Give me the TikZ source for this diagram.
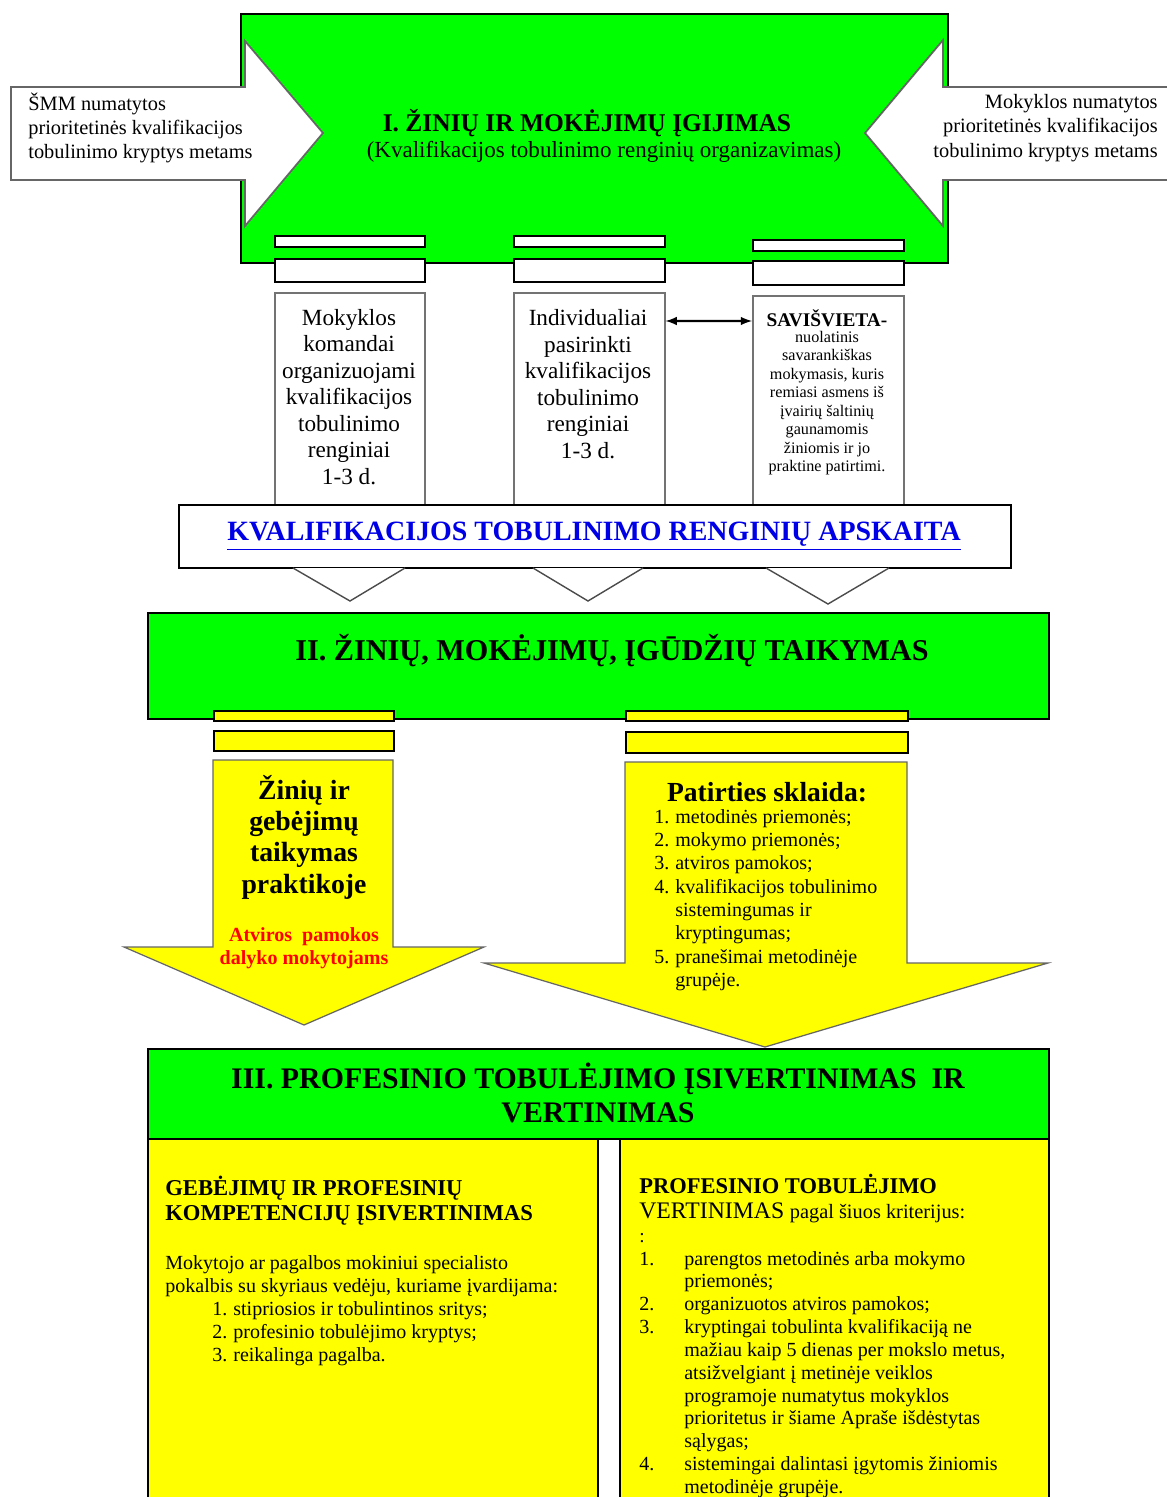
\documentclass[tikz,border=0pt]{standalone}
\usepackage{fontspec}
\setmainfont{Liberation Serif}
\usetikzlibrary{arrows}
\definecolor{brightgreen}{RGB}{0,255,0}
\definecolor{brightyellow}{RGB}{255,255,0}
\definecolor{linkblue}{RGB}{0,0,230}
\definecolor{alertred}{RGB}{255,0,0}

\begin{document}
\begin{tikzpicture}[
    x=0.02cm, y=-0.02cm,
    greenbox/.style={rectangle, draw, line width=1.1pt, fill=brightgreen, anchor=north west, inner sep=0},
    whitebar/.style={rectangle, draw, line width=1.1pt, fill=white, anchor=north west, inner sep=0},
    yellowbar/.style={whitebar, fill=brightyellow},
    colbox/.style={rectangle, draw=black!55, line width=0.9pt, fill=white, anchor=north west, inner sep=0},
    yellowbox/.style={rectangle, draw, line width=0.9pt, fill=brightyellow, anchor=north west, inner sep=0},
    bigarrow/.style={draw=black!60, line width=1pt, fill=white},
    yarrow/.style={draw=black!60, line width=0.7pt, fill=brightyellow},
    vshape/.style={draw=black!70, line width=0.8pt, fill=white},
    txt/.style={inner sep=0, align=center},
    arrow/.style={<->, line width=1.2pt, >=latex}
]
\useasboundingbox (0,0) rectangle (1166,1497);

% I. knowledge acquisition
\node[greenbox, minimum width=14.14cm, minimum height=4.98cm] (igijimas) at (240,13) {};
\draw[bigarrow] (11,87) -- (245,87) -- (245,41) -- (323,133) -- (245,226) -- (245,180) -- (11,180) -- cycle;
\draw[bigarrow] (1168,87) -- (943,87) -- (943,40) -- (865,133) -- (943,226) -- (943,180) -- (1168,180) -- cycle;
\node[txt, font=\fontsize{14.5}{16}\selectfont\bfseries] (ititle) at (587,123) {I. ŽINIŲ IR MOKĖJIMŲ ĮGIJIMAS};
\node[txt, font=\fontsize{13.1}{15}\selectfont] (isub) at (604,152) {(Kvalifikacijos tobulinimo renginių organizavimas)};
\node[txt, align=left, anchor=west, font=\fontsize{11.6}{13.9}\selectfont] (smm) at (28,128) {ŠMM numatytos\\prioritetinės kvalifikacijos\\tobulinimo kryptys metams};
\node[txt, align=right, anchor=east, font=\fontsize{11.6}{13.9}\selectfont] (mokykla) at (1158,128) {Mokyklos numatytos\\prioritetinės kvalifikacijos\\tobulinimo kryptys metams};

% three ways of training
\node[whitebar, minimum width=3cm, minimum height=0.22cm] (bar1a) at (274,235) {};
\node[whitebar, minimum width=3cm, minimum height=0.46cm] (bar1b) at (274,258) {};
\node[whitebar, minimum width=3.02cm, minimum height=0.22cm] (bar2a) at (513,235) {};
\node[whitebar, minimum width=3.02cm, minimum height=0.46cm] (bar2b) at (513,258) {};
\node[whitebar, minimum width=3.02cm, minimum height=0.22cm] (bar3a) at (752,239) {};
\node[whitebar, minimum width=3.02cm, minimum height=0.48cm] (bar3b) at (752,260) {};

\node[colbox, minimum width=3cm, minimum height=4.26cm] (komanda) at (274,292) {};
\node[colbox, minimum width=3.02cm, minimum height=4.26cm] (individ) at (513,292) {};
\node[colbox, minimum width=3.02cm, minimum height=4.2cm] (savis) at (752,295) {};
\draw[arrow] ([yshift=-0.58cm]individ.north east) -- ([yshift=-0.52cm]savis.north west);

\node[txt, font=\fontsize{13.2}{15.1}\selectfont] (komandatxt) at (349,397) {Mokyklos\\komandai\\organizuojami\\kvalifikacijos\\tobulinimo\\renginiai\\1-3 d.};
\node[txt, font=\fontsize{13.2}{15.1}\selectfont] (individtxt) at (588,384) {Individualiai\\pasirinkti\\kvalifikacijos\\tobulinimo\\renginiai\\1-3 d.};
\node[txt, font=\fontsize{11}{12}\selectfont\bfseries] (savistitle) at (827,318) {SAVIŠVIETA-};
\node[txt, font=\fontsize{9.2}{10.5}\selectfont] (savistxt) at (827,403) {nuolatinis\\savarankiškas\\mokymasis, kuris\\remiasi asmens iš\\įvairių šaltinių\\gaunamomis\\žiniomis ir jo\\praktine patirtimi.};

% accounting
\node[whitebar, minimum width=16.64cm, minimum height=1.26cm] (apskaita) at (178,504) {};
\node[txt, font=\fontsize{15.9}{18}\selectfont\bfseries, text=linkblue] (apskaitatxt) at (594,536) {\underline{KVALIFIKACIJOS TOBULINIMO RENGINIŲ APSKAITA}};
\draw[vshape] (293,568) -- (350,601) -- (405,568);
\draw[vshape] (533,568) -- (588,601) -- (643,568);
\draw[vshape] (766,568) -- (828,604) -- (889,568);

% II. application
\node[greenbox, minimum width=18.02cm, minimum height=2.12cm] (taikymas) at (147,612) {};
\node[txt, font=\fontsize{17.2}{19}\selectfont\bfseries] (iititle) at (612,651) {II. ŽINIŲ, MOKĖJIMŲ, ĮGŪDŽIŲ TAIKYMAS};
\node[yellowbar, minimum width=3.6cm, minimum height=0.2cm] (ybar1a) at (213,710) {};
\node[yellowbar, minimum width=3.6cm, minimum height=0.4cm] (ybar1b) at (213,730) {};
\node[yellowbar, minimum width=5.64cm, minimum height=0.2cm] (ybar2a) at (625,710) {};
\node[yellowbar, minimum width=5.64cm, minimum height=0.42cm] (ybar2b) at (625,731) {};

\draw[yarrow] (213,760) -- (393,760) -- (393,947) -- (484,947) -- (304,1025) -- (124,947) -- (213,947) -- cycle;
\draw[yarrow] (625,762) -- (907,762) -- (907,963) -- (1048,963) -- (765,1047) -- (484,963) -- (625,963) -- cycle;
\node[txt, font=\fontsize{15.8}{17.8}\selectfont\bfseries] (praktika) at (304,837) {Žinių ir\\gebėjimų\\taikymas\\praktikoje};
\node[txt, font=\fontsize{11.4}{13}\selectfont\bfseries, text=alertred] (atviros) at (304,948) {Atviros~ pamokos\\dalyko mokytojams};
\node[txt, font=\fontsize{15.7}{17}\selectfont\bfseries] (sklaida) at (767,792) {Patirties sklaida:};
\node[txt, anchor=base west, font=\fontsize{11.4}{13.3}\selectfont] (sklaidalist) at (654,823) {%
\begin{tabular}[t]{@{}p{0.42cm}@{}l@{}}
1. & metodinės priemonės;\\
2. & mokymo priemonės;\\
3. & atviros pamokos;\\
4. & kvalifikacijos tobulinimo\\
   & sistemingumas ir\\
   & kryptingumas;\\
5. & pranešimai metodinėje\\
   & grupėje.
\end{tabular}};

% III. evaluation
\node[greenbox, minimum width=18.02cm, minimum height=1.8cm] (vertinimas) at (147,1048) {};
\node[txt, font=\fontsize{17}{19.8}\selectfont\bfseries] (iiititle) at (598,1093) {III. PROFESINIO TOBULĖJIMO ĮSIVERTINIMAS~ IR\\VERTINIMAS};
\node[yellowbox, minimum width=9cm, minimum height=7.4cm] (isivert) at (147,1138) {};
\node[yellowbox, minimum width=8.58cm, minimum height=7.4cm] (kriterijai) at (619,1138) {};

\node[txt, anchor=base west, font=\fontsize{12.9}{14.7}\selectfont\bfseries] (isiverthead) at (165,1195) {%
\begin{tabular}[t]{@{}l@{}}
GEBĖJIMŲ IR PROFESINIŲ\\
KOMPETENCIJŲ ĮSIVERTINIMAS
\end{tabular}};
\node[txt, anchor=base west, font=\fontsize{11.4}{13.2}\selectfont] (isiverttxt) at (165,1269) {%
\begin{tabular}[t]{@{}l@{}}
Mokytojo ar pagalbos mokiniui specialisto\\
pokalbis su skyriaus vedėju, kuriame įvardijama:\\
\hspace{0.94cm}\makebox[0.42cm][l]{1.}stipriosios ir tobulintinos sritys;\\
\hspace{0.94cm}\makebox[0.42cm][l]{2.}profesinio tobulėjimo kryptys;\\
\hspace{0.94cm}\makebox[0.42cm][l]{3.}reikalinga pagalba.
\end{tabular}};

\node[txt, anchor=base west, font=\fontsize{12.8}{14.7}\selectfont] (kriterhead) at (639,1193) {%
\begin{tabular}[t]{@{}l@{}}
\textbf{PROFESINIO TOBULĖJIMO}\\
{\fontsize{13.5}{14.7}\selectfont VERTINIMAS} {\fontsize{11.6}{14.7}\selectfont pagal šiuos kriterijus:}
\end{tabular}};
\node[txt, anchor=base west, font=\fontsize{11}{12}\selectfont] (kriterdot) at (639,1242) {:};
\node[txt, anchor=base west, font=\fontsize{11.4}{13}\selectfont] (kriterlist) at (639,1265) {%
\begin{tabular}[t]{@{}p{0.9cm}@{}l@{}}
1. & parengtos metodinės arba mokymo\\
   & priemonės;\\
2. & organizuotos atviros pamokos;\\
3. & kryptingai tobulinta kvalifikaciją ne\\
   & mažiau kaip 5 dienas per mokslo metus,\\
   & atsižvelgiant į metinėje veiklos\\
   & programoje numatytus mokyklos\\
   & prioritetus ir šiame Apraše išdėstytas\\
   & sąlygas;\\
4. & sistemingai dalintasi įgytomis žiniomis\\
   & metodinėje grupėje.
\end{tabular}};

\end{tikzpicture}
\end{document}
